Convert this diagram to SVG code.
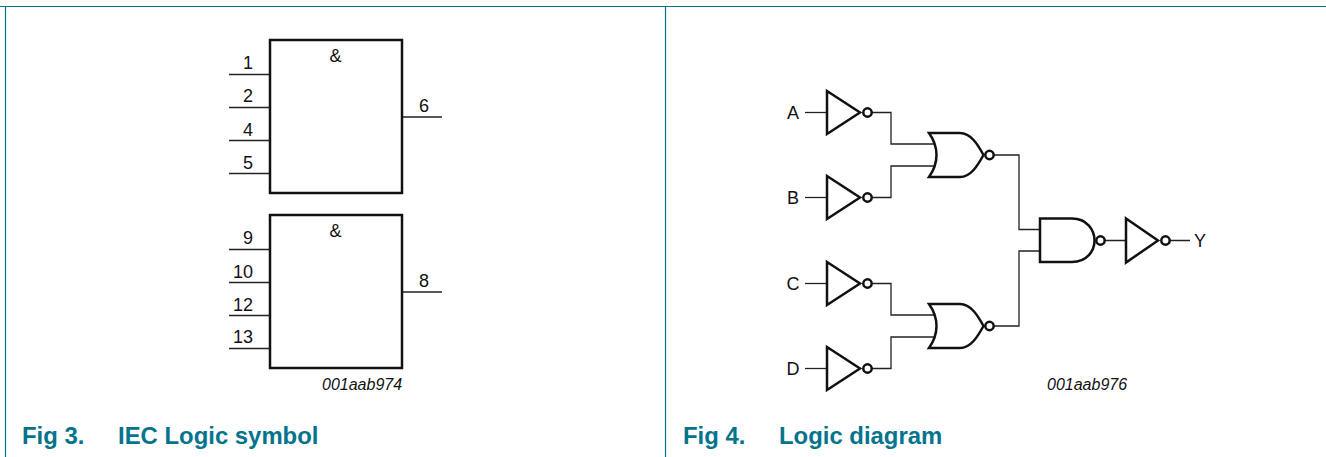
<svg xmlns="http://www.w3.org/2000/svg" width="1326" height="457" viewBox="0 0 1326 457">
<style>
text{font-family:"Liberation Sans",Arial,sans-serif;fill:#111}
.l{font-size:18px;text-anchor:middle}
.r{font-size:16px;font-style:italic}
.c{font-size:23.900px;font-weight:bold;fill:#04748c}
.f{fill:none;stroke:#04748c;stroke-width:1.2}
.w{fill:none;stroke:#222;stroke-width:1.3}
.g{fill:#fff;stroke:#111;stroke-width:2.500;stroke-linejoin:miter}
.b{fill:#fff;stroke:#111;stroke-width:2.500}
</style>
<defs>
<g id="inv"><path class="w" d="M-22 0H0"/><path class="g" d="M0-21.500L33 0L0 21.500Z"/><circle class="b" cx="40.500" cy="0" r="4.200"/></g>
<g id="nor"><path class="g" d="M0-22H31C42-22 49-10 54.500 0C49 10 42 22 31 22H0C5 15 7.500 7 7.500 0C7.500-7 5-15 0-22Z"/><circle class="b" cx="60.500" cy="0" r="4.200"/></g>
</defs>
<g id="frame"><path class="f" d="M0 6.500H1326M5.500 6.500V457M665.500 6.500V457"/></g>
<g id="connectors">
<path class="w" d="M229 74.500H270M229 107.500H270M229 140.500H270M229 173.500H270M402 117H442M229 249.500H270M229 282.500H270M229 315.500H270M229 348.500H270M402 292H442"/>
<path class="w" d="M871 112.500H891V144H934M871 197.500H891V166H934M871 283.500H891V315H934M871 368.500H891V337H934M993 155H1019V229.500H1040M993 326H1019V251H1040M1105 240.500H1126M1170 240.500H1190"/>
</g>
<g id="u1"><rect class="g" x="270" y="40" width="132" height="153"/><text class="l" x="335.500" y="62">&amp;</text><text class="l" x="248" y="69">1</text><text class="l" x="248" y="102">2</text><text class="l" x="248" y="135.500">4</text><text class="l" x="248" y="168.500">5</text><text class="l" x="424" y="112">6</text></g>
<g id="u2"><rect class="g" x="270" y="215" width="132" height="153"/><text class="l" x="335.500" y="237">&amp;</text><text class="l" x="248" y="244">9</text><text class="l" x="243" y="277.500">10</text><text class="l" x="243" y="310.500">12</text><text class="l" x="243" y="343">13</text><text class="l" x="424" y="287">8</text></g>
<g id="ref1"><text class="r" x="322" y="390">001aab974</text></g>
<g id="cap1"><text class="c" x="22" y="444">Fig 3.</text><text class="c" x="118" y="444">IEC Logic symbol</text></g>
<g id="invA"><use href="#inv" x="827" y="112.500"/><text class="l" x="793" y="118.500">A</text></g>
<g id="invB"><use href="#inv" x="827" y="197.500"/><text class="l" x="793" y="203.500">B</text></g>
<g id="invC"><use href="#inv" x="827" y="283.500"/><text class="l" x="793" y="289.500">C</text></g>
<g id="invD"><use href="#inv" x="827" y="368.500"/><text class="l" x="793" y="374.500">D</text></g>
<g id="nor1"><use href="#nor" x="929" y="155"/></g>
<g id="nor2"><use href="#nor" x="929" y="326"/></g>
<g id="nand"><path class="g" d="M1040 218.500H1072C1087 218.500 1094.500 230 1094.500 240.500C1094.500 251 1087 262 1072 262H1040Z"/><circle class="b" cx="1100.500" cy="240.500" r="4.200"/></g>
<g id="invY"><path class="g" d="M1126 218.500L1158 240.500L1126 262.500Z"/><circle class="b" cx="1165.500" cy="240.500" r="4.200"/><text class="l" x="1200" y="246.500">Y</text></g>
<g id="ref2"><text class="r" x="1047" y="390">001aab976</text></g>
<g id="cap2"><text class="c" x="683" y="444">Fig 4.</text><text class="c" x="779" y="444">Logic diagram</text></g>
</svg>
